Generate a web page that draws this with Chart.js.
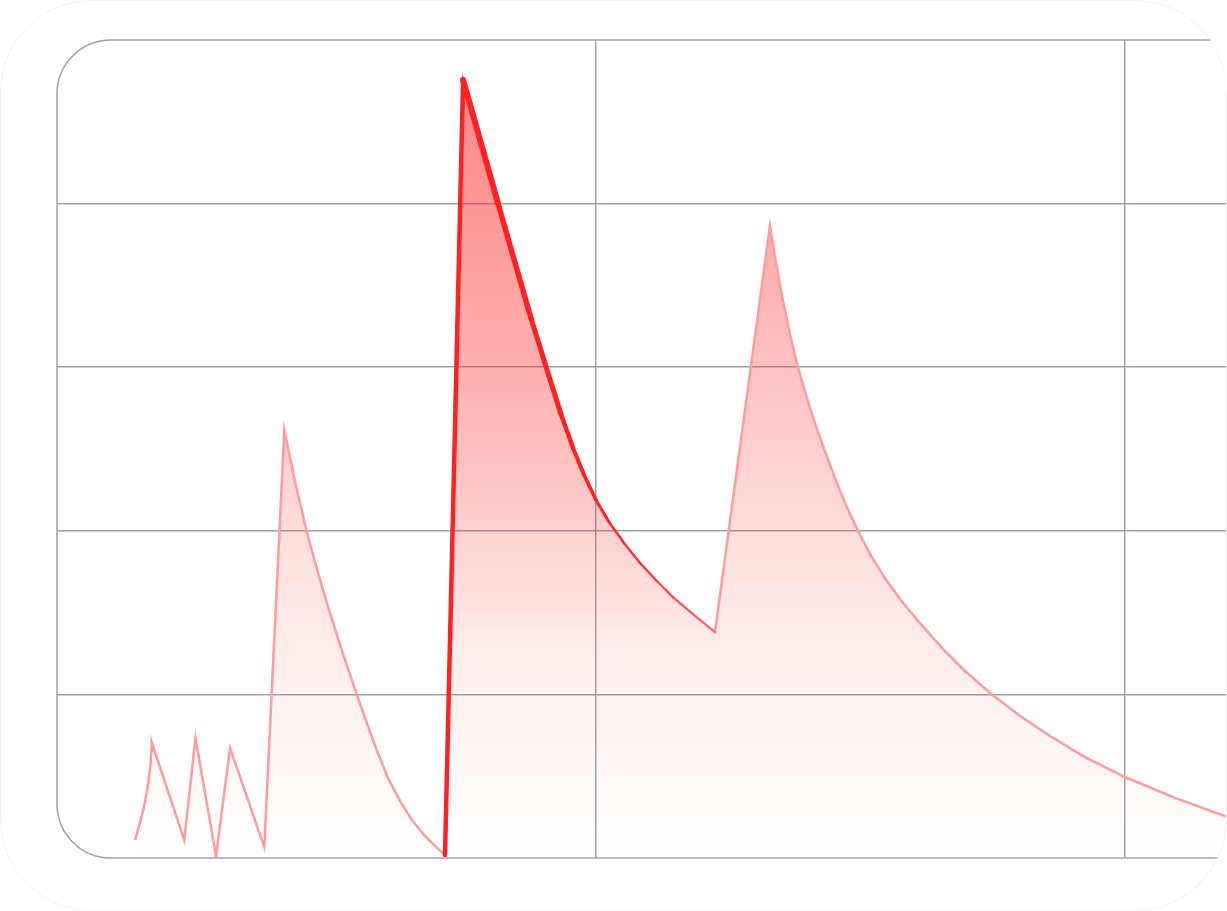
<!DOCTYPE html>
<html>
<head>
<meta charset="utf-8">
<title>Dose level chart</title>
<script src="https://cdn.jsdelivr.net/npm/chart.js@4.4.1/dist/chart.umd.min.js"></script>
<style>
    html, body { margin: 0; padding: 0; background: #fff; }
    .card {
        position: relative;
        width: 1227px;
        height: 911px;
        border-radius: 92px;
        overflow: hidden;
        background: #fff;
    }
    .card-edge {
        position: absolute;
        inset: 0;
        border: 1px solid #f1f1f1;
        border-radius: 92px;
        pointer-events: none;
    }
    canvas { display: block; }
</style>
</head>
<body>
<div class="card">
    <canvas id="doseChart" width="1227" height="911"></canvas>
    <div class="card-edge"></div>
</div>

<script>
// ==============================================================================
// 1. DATA
// ==============================================================================
const hours = [
    3.09, 3.27, 3.46, 3.58, 3.69, 3.75, 3.80, 3.82, 3.84,
    5.32, 5.83, 6.76, 7.40, 8.95,
    9.86, 10.34, 10.87, 11.39, 11.93, 12.52, 13.14, 13.57, 14.05, 14.56, 15.11, 15.65, 16.20, 16.70, 17.15,
    17.97, 18.74, 19.55, 20.33, 21.05, 21.78, 22.41, 22.96, 23.46, 24.00, 24.59, 25.27, 26.00, 26.72, 27.49, 28.45, 29.40,
    31.89, 32.17, 32.44, 32.80, 33.15, 33.53, 33.89, 34.30, 34.84, 35.34, 35.89, 36.43, 37.11,
    37.79, 38.70, 39.74, 40.74, 41.88, 43.24, 44.60, 46.19, 48.00, 50.27, 52.63, 54.12
];

const level = [
    0.110, 0.196, 0.293, 0.373, 0.458, 0.526, 0.587, 0.648, 0.709,
    0.110, 0.733, 0.012, 0.672, 0.067,
    2.616, 2.304, 1.999, 1.742, 1.498, 1.247, 1.002, 0.837, 0.660, 0.489, 0.348, 0.232, 0.141, 0.073, 0.018,
    4.756, 4.389, 4.004, 3.637, 3.301, 2.983, 2.714, 2.506, 2.341, 2.188, 2.054, 1.925, 1.803, 1.699, 1.595, 1.485, 1.381,
    3.863, 3.637, 3.435, 3.203, 3.007, 2.830, 2.677, 2.518, 2.323, 2.158, 1.999, 1.858, 1.711,
    1.583, 1.436, 1.278, 1.143, 1.009, 0.868, 0.746, 0.617, 0.495, 0.367, 0.251, 0.183
];

const xTicks = [24, 48];
const yTicks = [0, 1, 2, 3, 4, 5];

// the dose that gets emphasised (first and last index in the series)
const highlightFrom = 28;
const highlightTo = 45;

// ==============================================================================
// 2. STYLE HELPERS
// ==============================================================================
const GRID = '#a2a2aa';
const X_MIN = -0.454;
const X_MAX = 52.63;

// stroke width per highlighted segment: thick round the peak, thinning out
const highlightWidths = [4.5, 6, 6, 5.5, 5.5, 5, 5, 4.5, 4, 3.5, 3, 2.5, 2.2, 2, 1.8, 1.6, 1.5];
const highlightAlpha  = [1, 1, 1, 1, 1, 1, 1, 1, 1, 1, 0.95, 0.9, 0.85, 0.8, 0.7, 0.6, 0.5];

function verticalFill(chart, stops) {
    const area = chart.chartArea;
    if (!area) return 'rgba(255,0,0,0)';
    const g = chart.ctx.createLinearGradient(0, area.top, 0, area.bottom);
    stops.forEach(s => g.addColorStop(s[0], s[1]));
    return g;
}

const points = hours.map((h, i) => ({ x: h, y: level[i] }));
const highlightPoints = hours.map((h, i) => ({
    x: h,
    y: (i >= highlightFrom && i <= highlightTo) ? level[i] : null
}));

// rounded frame on the left side, drawn from the chart area
const framePlugin = {
    id: 'frame',
    beforeDatasetsDraw(chart) {
        const { ctx, chartArea: a } = chart;
        const r = 54;
        ctx.save();
        ctx.strokeStyle = GRID;
        ctx.lineWidth = 1.5;
        ctx.beginPath();
        ctx.moveTo(a.right + 10, a.top);
        ctx.lineTo(a.left + r, a.top);
        ctx.arcTo(a.left, a.top, a.left, a.top + r, r);
        ctx.lineTo(a.left, a.bottom - r);
        ctx.arcTo(a.left, a.bottom, a.left + r, a.bottom, r);
        ctx.lineTo(a.right + 10, a.bottom);
        ctx.stroke();
        ctx.restore();
    }
};

// ==============================================================================
// 3. CHART
// ==============================================================================
new Chart(document.getElementById('doseChart'), {
    type: 'line',
    data: {
        datasets: [
            {
                // emphasised dose: stroke only, width per segment
                data: highlightPoints,
                order: 0,
                borderColor: '#ff2222',
                borderWidth: 5,
                borderJoinStyle: 'round',
                borderCapStyle: 'round',
                pointRadius: 0,
                spanGaps: false,
                fill: false,
                segment: {
                    borderWidth: (s) => highlightWidths[s.p0DataIndex - highlightFrom] || 2,
                    borderColor: (s) => {
                        const a = highlightAlpha[s.p0DataIndex - highlightFrom];
                        return `rgba(255,34,34,${a === undefined ? 1 : a})`;
                    }
                }
            },
            {
                // extra tint under the emphasised dose
                data: highlightPoints,
                order: 1,
                borderWidth: 0,
                pointRadius: 0,
                spanGaps: false,
                fill: 'origin',
                backgroundColor: (c) => verticalFill(c.chart, [
                    [0, 'rgba(255,40,40,0.17)'],
                    [0.56, 'rgba(255,40,40,0.09)'],
                    [0.74, 'rgba(255,40,40,0)'],
                    [1, 'rgba(255,40,40,0)']
                ])
            },
            {
                data: points,
                order: 2,
                borderColor: '#ff9c9c',
                borderWidth: 2.5,
                borderJoinStyle: 'miter',
                pointRadius: 0,
                tension: 0,
                fill: 'origin',
                backgroundColor: (c) => verticalFill(c.chart, [
                    [0, 'rgba(255,30,30,0.48)'],
                    [0.32, 'rgba(255,30,30,0.32)'],
                    [0.60, 'rgba(255,30,30,0.15)'],
                    [0.80, 'rgba(255,30,30,0.06)'],
                    [1, 'rgba(255,30,30,0.0)']
                ])
            }
        ]
    },
    options: {
        responsive: false,
        animation: false,
        layout: { padding: { top: 40, left: 57, right: 0, bottom: 53 } },
        plugins: {
            legend: { display: false },
            tooltip: { enabled: false }
        },
        scales: {
            x: {
                type: 'linear',
                min: X_MIN,
                max: X_MAX,
                afterBuildTicks: (scale) => { scale.ticks = xTicks.map(v => ({ value: v })); },
                ticks: { display: false },
                border: { display: false },
                grid: { color: GRID, lineWidth: 1.5, drawTicks: false }
            },
            y: {
                min: 0,
                max: 5,
                afterBuildTicks: (scale) => { scale.ticks = yTicks.map(v => ({ value: v })); },
                ticks: { display: false },
                border: { display: false },
                grid: {
                    // top and bottom come from the rounded frame instead
                    color: (c) => (c.tick && (c.tick.value === 0 || c.tick.value === 5)) ? 'rgba(0,0,0,0)' : GRID,
                    lineWidth: 1.5,
                    drawTicks: false
                }
            }
        }
    },
    plugins: [framePlugin]
});
</script>
</body>
</html>
